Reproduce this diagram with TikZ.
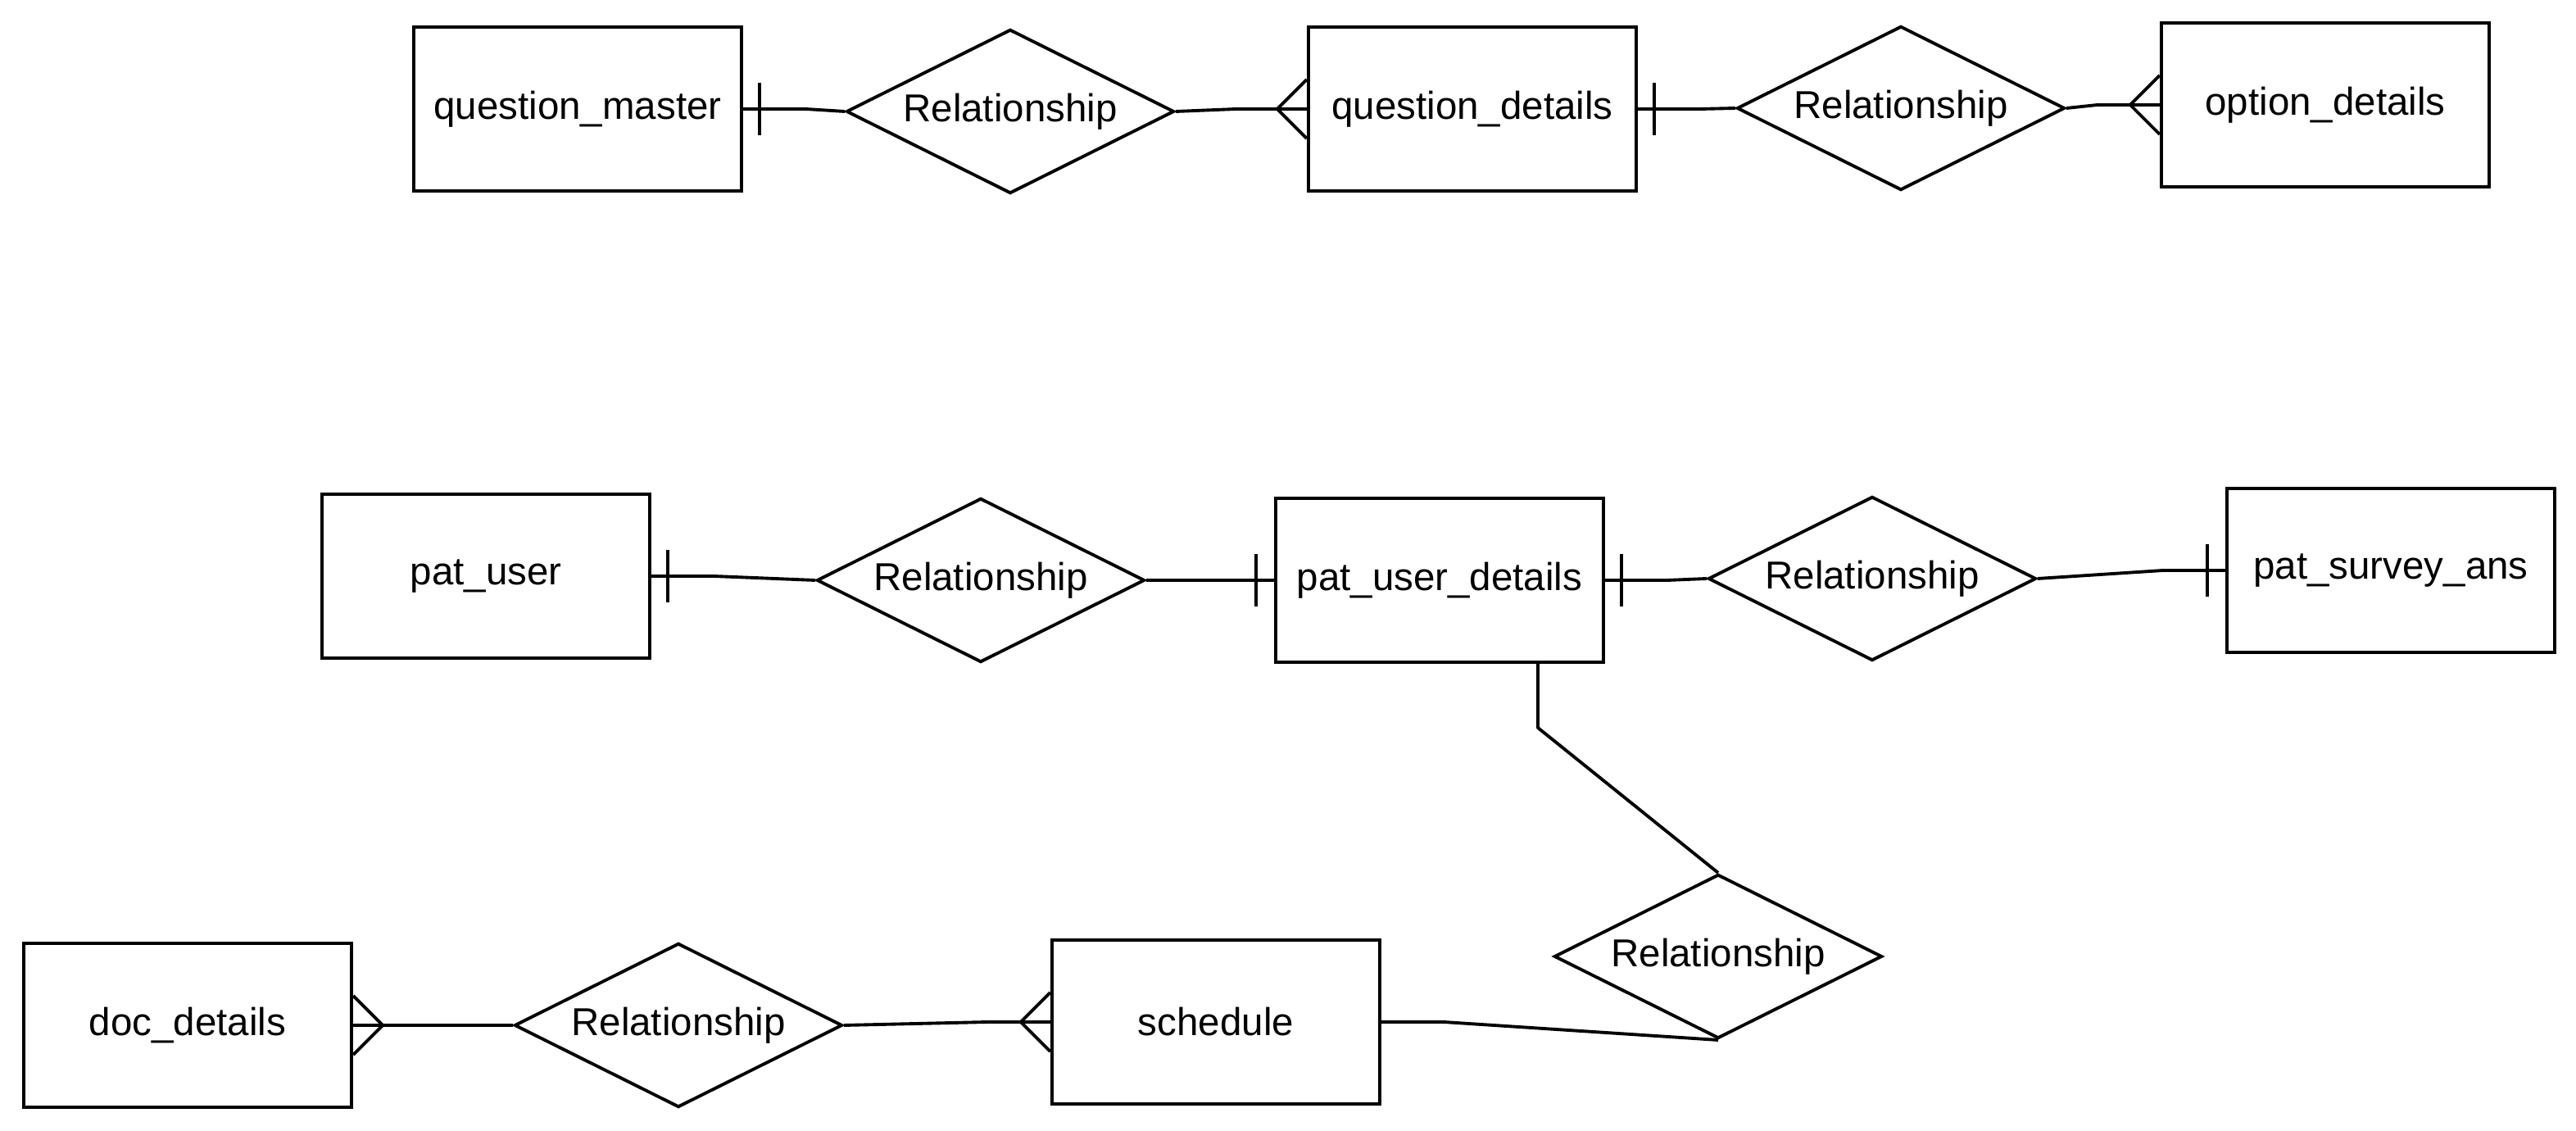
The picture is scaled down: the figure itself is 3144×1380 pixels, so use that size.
\documentclass[tikz,border=0pt]{standalone}
\usepackage{fontspec}
\setmainfont{Liberation Sans}
\usetikzlibrary{shapes.geometric,calc}
\tikzset{
  ent/.style={draw, line width=1.1pt, minimum width=4cm, minimum height=2cm, inner sep=0pt, font=\fontsize{13.5}{16}\selectfont},
  rel/.style={draw, diamond, aspect=2, line width=1.1pt, minimum width=4cm, minimum height=2cm, inner sep=0pt, font=\fontsize{13.5}{16}\selectfont},
  conn/.style={line width=1.1pt, line join=round},
}
\begin{document}
\begin{tikzpicture}[x=0.01cm, y=-0.01cm]
\useasboundingbox (0,0) rectangle (3144,1380);
% entities
\node[ent] (qm)  at (705,133)  {question\_master};
\node[ent] (qd)  at (1797,133) {question\_details};
\node[ent] (od)  at (2838,128) {option\_details};
\node[ent] (pu)  at (593,703)  {pat\_user};
\node[ent] (pud) at (1757,708) {pat\_user\_details};
\node[ent] (psa) at (2918,696) {pat\_survey\_ans};
\node[ent] (dd)  at (229,1251) {doc\_details};
\node[ent] (sch) at (1484,1247) {schedule};
% relationships
\node[rel] (r1) at (1233,136)  {Relationship};
\node[rel] (r2) at (2320,132)  {Relationship};
\node[rel] (r3) at (1197,708)  {Relationship};
\node[rel] (r4) at (2285,706)  {Relationship};
\node[rel] (r5) at (2097,1167) {Relationship};
\node[rel] (r6) at (828,1251)  {Relationship};
% connectors
\draw[conn] (qm.east) -- ++(76,0) -- (r1.west);
\draw[conn] ($(qm.east)+(20,-32)$) -- ($(qm.east)+(20,32)$);
\draw[conn] (r1.east) -- ($(qd.west)+(-86,0)$) -- (qd.west);
\draw[conn] ($(qd.west)+(0,-36)$) -- ($(qd.west)+(-36,0)$) -- ($(qd.west)+(0,36)$);
\draw[conn] (qd.east) -- ++(76,0) -- (r2.west);
\draw[conn] ($(qd.east)+(20,-32)$) -- ($(qd.east)+(20,32)$);
\draw[conn] (r2.east) -- ($(od.west)+(-76,0)$) -- (od.west);
\draw[conn] ($(od.west)+(0,-36)$) -- ($(od.west)+(-36,0)$) -- ($(od.west)+(0,36)$);
\draw[conn] (pu.east) -- ++(76,0) -- (r3.west);
\draw[conn] ($(pu.east)+(20,-32)$) -- ($(pu.east)+(20,32)$);
\draw[conn] (r3.east) -- ($(pud.west)+(-76,0)$) -- (pud.west);
\draw[conn] ($(pud.west)+(-22,-32)$) -- ($(pud.west)+(-22,32)$);
\draw[conn] (pud.east) -- ++(76,0) -- (r4.west);
\draw[conn] ($(pud.east)+(20,-32)$) -- ($(pud.east)+(20,32)$);
\draw[conn] (r4.east) -- ($(psa.west)+(-76,0)$) -- (psa.west);
\draw[conn] ($(psa.west)+(-22,-32)$) -- ($(psa.west)+(-22,32)$);
\coordinate (pudb) at ($(pud.south)+(120,0)$);
\draw[conn] (pudb) -- ++(0,78) -- (r5.north);
\draw[conn] (sch.east) -- ++(76,0) -- (r5.south);
\draw[conn] (r6.west) -- ($(dd.east)+(76,0)$) -- (dd.east);
\draw[conn] ($(dd.east)+(0,-36)$) -- ($(dd.east)+(36,0)$) -- ($(dd.east)+(0,36)$);
\draw[conn] (r6.east) -- ($(sch.west)+(-76,0)$) -- (sch.west);
\draw[conn] ($(sch.west)+(0,-36)$) -- ($(sch.west)+(-36,0)$) -- ($(sch.west)+(0,36)$);
\end{tikzpicture}
\end{document}
